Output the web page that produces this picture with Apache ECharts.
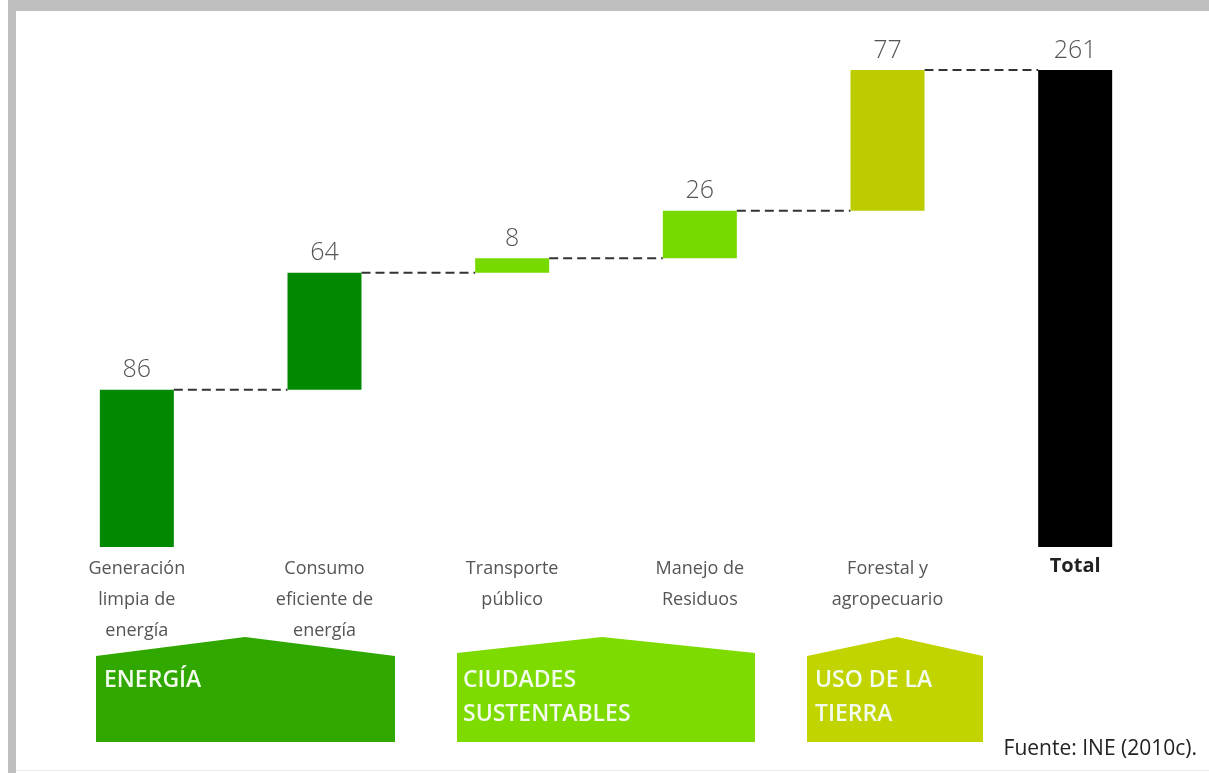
<!DOCTYPE html>
<html>
<head>
<meta charset="utf-8">
<title>Potencial de mitigación</title>
<script src="https://cdn.jsdelivr.net/npm/echarts@6/dist/echarts.min.js"></script>
<style>
  html, body { margin: 0; padding: 0; background: #ffffff; }
  #chart { width: 1209px; height: 773px; }
</style>
</head>
<body>
<div id="chart"></div>
<script>
// Mitigation potential by measure (waterfall), last bar is the total
const categories = [
  'Generación\nlimpia de\nenergía',
  'Consumo\neficiente de\nenergía',
  'Transporte\npúblico',
  'Manejo de\nResiduos',
  'Forestal y\nagropecuario',
  'Total'
];
const increments = [86, 64, 8, 26, 77];
const totalValue = 261;
const barColors = ['#018a01', '#018a01', '#77d900', '#77d900', '#bccc00', '#000000'];

// Sector groups shown beneath the categories
const groupNames = ['ENERGÍA', 'CIUDADES\nSUSTENTABLES', 'USO DE LA\nTIERRA'];
const groupColors = ['#30a800', '#7ddb00', '#c2d400'];

// Waterfall: invisible base + visible step
const baseValues = [];
let running = 0;
increments.forEach(v => { baseValues.push(running); running += v; });
baseValues.push(0);
const stepValues = increments.concat([totalValue]);

// Connector levels: top of each bar, joined to the next one
const connectorData = [];
running = 0;
increments.forEach((v, i) => { running += v; connectorData.push([i, running]); });

const BAR_W = 74;

const chart = echarts.init(document.getElementById('chart'), null, { renderer: 'canvas' });

function pentagon(x0, x1, xp, yTop, yPeak, yBot) {
  return [[x0, yBot], [x0, yTop], [xp, yPeak], [x1, yTop], [x1, yBot]];
}

const groupBoxes = [
  { x0: 96, x1: 395, xp: 245, yTop: 656, tx: 104 },
  { x0: 457, x1: 755, xp: 602, yTop: 653, tx: 463 },
  { x0: 807, x1: 983, xp: 897, yTop: 656, tx: 815 }
];

const graphics = [
  { type: 'rect', left: 8, top: 0, shape: { width: 1201, height: 11 }, style: { fill: '#bfbfbf' }, silent: true },
  { type: 'rect', left: 8, top: 0, shape: { width: 8, height: 773 }, style: { fill: '#bfbfbf' }, silent: true },
  { type: 'rect', left: 16, top: 770, shape: { width: 1193, height: 1 }, style: { fill: '#ececec' }, silent: true },
  {
    type: 'text', right: 12, top: 739,
    style: { text: 'Fuente: INE (2010c).', font: '21px "Open Sans", sans-serif', fill: '#222222' }
  }
];
groupBoxes.forEach((g, i) => {
  graphics.push({
    type: 'polygon',
    shape: { points: pentagon(g.x0, g.x1, g.xp, g.yTop, 637, 742) },
    style: { fill: groupColors[i] },
    silent: true
  });
  graphics.push({
    type: 'text', left: g.tx, top: 663,
    style: {
      text: groupNames[i],
      font: '600 23px "Open Sans", sans-serif',
      fill: '#f2fbec',
      lineHeight: 34
    },
    silent: true
  });
});

chart.setOption({
  animation: false,
  backgroundColor: 'transparent',
  grid: { left: 43, right: 40, top: 70, bottom: 226, containLabel: false },
  xAxis: {
    type: 'category',
    data: categories,
    axisLine: { show: false },
    axisTick: { show: false },
    axisLabel: {
      margin: 6,
      interval: 0,
      color: '#555555',
      fontFamily: 'Open Sans',
      fontSize: 18,
      lineHeight: 31,
      formatter: v => v === 'Total' ? '{t|Total}' : v,
      rich: {
        t: { fontFamily: 'Open Sans', fontWeight: 'bold', fontSize: 20, color: '#222222', lineHeight: 26 }
      }
    }
  },
  yAxis: {
    type: 'value',
    min: 0,
    max: totalValue,
    show: false,
    splitLine: { show: false }
  },
  series: [
    {
      name: 'base',
      type: 'bar',
      stack: 'wf',
      barWidth: BAR_W,
      itemStyle: { color: 'transparent' },
      data: baseValues,
      silent: true
    },
    {
      name: 'valor',
      type: 'bar',
      stack: 'wf',
      barWidth: BAR_W,
      data: stepValues.map((v, i) => ({ value: v, itemStyle: { color: barColors[i] } })),
      label: {
        show: true,
        position: 'top',
        distance: 7,
        color: '#555555',
        fontFamily: 'Open Sans',
        fontWeight: 300,
        fontSize: 25
      }
    },
    {
      name: 'conectores',
      type: 'custom',
      data: connectorData,
      z: 1,
      silent: true,
      renderItem: (params, api) => {
        const i = api.value(0);
        const lvl = api.value(1);
        const p0 = api.coord([i, lvl]);
        const p1 = api.coord([i + 1, lvl]);
        return {
          type: 'line',
          shape: { x1: p0[0] + BAR_W / 2, y1: p0[1], x2: p1[0] - BAR_W / 2, y2: p1[1] },
          style: { stroke: '#333333', lineWidth: 2, lineDash: [9, 5] }
        };
      }
    }
  ],
  graphic: graphics
});
</script>
</body>
</html>
